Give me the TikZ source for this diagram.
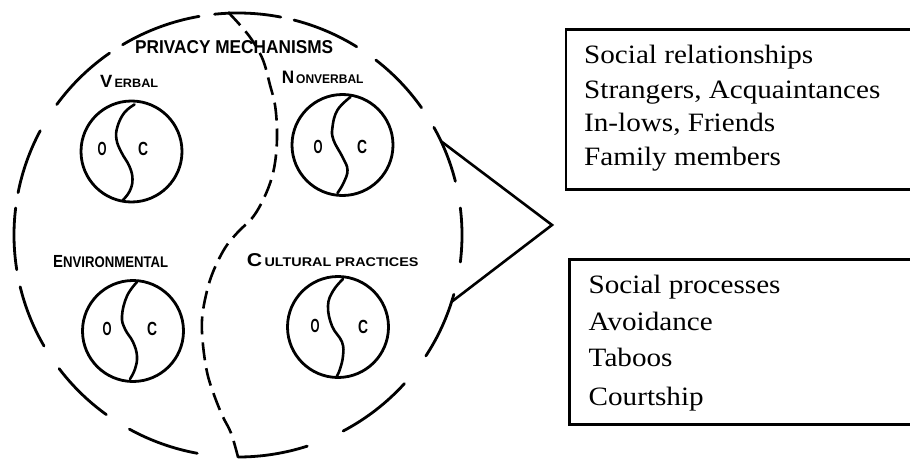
\documentclass[tikz,border=0pt]{standalone}
\usepackage{fontspec}
\usepackage{graphicx}
\newfontfamily\lab{Liberation Sans Bold}
\newfontfamily\boxfont[FakeStretch=1.1]{Liberation Serif}
\newcommand{\fitw}[2]{\resizebox{#1}{\height}{#2}}
\newcommand{\fs}[1]{\fontsize{#1}{#1}\selectfont}
\begin{document}
\begin{tikzpicture}[x=1pt,y=1pt,
  bigdash/.style={line width=2.8pt, line cap=round},
  splitdash/.style={line width=2.6pt, dash pattern=on 18pt off 8pt},
  ring/.style={circle, draw, line width=2.8pt, minimum size=101pt, inner sep=0pt},
  scurve/.style={line width=2.6pt, line cap=round},
  oc/.style={inner sep=0pt, font=\lab},
  lettering/.style={anchor=base west, inner sep=0pt, font=\lab},
  boxtext/.style={anchor=base west, inner sep=0pt, font=\boxfont\fs{26.5}},
  infobox/.style={draw, line width=2.4pt, anchor=north west, inner sep=0pt, minimum width=360pt}
]
\useasboundingbox (0,0) rectangle (910,459);
\clip (0,0) rectangle (910,459);

% big dashed circle
\foreach \a/\b in {100/121, 79/96, 58/75.5, 35/52, 14/29, -7/7, -33/-15.5, -62/-42,
  -90/-72, -119/-100.5, -143/-126, -166.5/-150, 173/189, 152/169, 125/144}
  \draw[bigdash] (238,224) ++(\a:224 and 222) arc[start angle=\a, end angle=\b, x radius=224, y radius=222];

% dividing dashed S-curve
\draw[splitdash] plot[smooth, tension=0.6] coordinates {(228,447) (240,434) (252,419) (263,399) (270,374) (275,354) (277,329) (276,304) (272,282) (264,261) (253,242) (238,227) (225,211) (213,187) (206,164) (202,139) (203,114) (207,87) (213,67) (222,44) (231,26) (238,2)};

% pointer triangle
\coordinate (t1) at (441,317.8);
\coordinate (apex) at (552,234);
\coordinate (t2) at (451.6,157.2);
\draw[line width=2.6pt, line join=miter] (t1) -- (apex) -- (t2);

% title
\node[lettering] (privacy) at (135,405.7) {\fitw{198pt}{\fs{18.6}PRIVACY MECHANISMS}};

% four mechanism circles
\node[ring] (verbal) at (131.5,307.5) {};
\node[ring] (nonverbal) at (342.5,314) {};
\node[ring] (environ) at (133,128) {};
\node[ring] (cultural) at (338,132) {};

\begin{scope}[shift={(131.5,307.5)}]
\draw[scurve] plot[smooth, tension=0.7] coordinates {(3,47) (-7,39) (-14,25) (-15,12) (-10,-1) (-2,-15) (1,-28) (-2,-40) (-9,-49)};
\end{scope}
\begin{scope}[shift={(342.5,314)}]
\draw[scurve] plot[smooth, tension=0.7] coordinates {(8,48) (-5,35) (-10,18) (-9,5) (0,-12) (5,-25) (1,-38) (-5,-48)};
\end{scope}
\begin{scope}[shift={(133,128)}]
\draw[scurve] plot[smooth, tension=0.7] coordinates {(4,49) (-6,35) (-11,15) (-8,2) (0,-11) (4,-25) (2,-38) (-3,-48)};
\end{scope}
\begin{scope}[shift={(338,132)}]
\draw[scurve] plot[smooth, tension=0.7] coordinates {(5,48) (-5,36) (-10,21) (-6,1) (4,-15) (5,-29) (2,-42) (-1,-49)};
\end{scope}

\node[oc] (vO) at (102,310) {\fitw{9pt}{\fs{19}O}};
\node[oc] (vC) at (143,310) {\fitw{10pt}{\fs{19}C}};
\node[oc] (nO) at (318,312) {\fitw{9pt}{\fs{19}O}};
\node[oc] (nC) at (362,312) {\fitw{10pt}{\fs{19}C}};
\node[oc] (eO) at (107,130) {\fitw{9pt}{\fs{19}O}};
\node[oc] (eC) at (152,130) {\fitw{10pt}{\fs{19}C}};
\node[oc] (cO) at (315,133) {\fitw{9pt}{\fs{19}O}};
\node[oc] (cC) at (363,132) {\fitw{10pt}{\fs{19}C}};

% labels
\node[lettering] (lverbal) at (100,371.3) {\fitw{58pt}{\fs{17.7}V\hspace{2pt}\fs{12.2}ERBAL}};
\node[lettering] (lnonverbal) at (281.7,375) {\fitw{81.6pt}{\fs{18}N\hspace{2pt}\fs{12.6}ONVERBAL}};
\node[lettering] (lenviron) at (53,191.3) {\fitw{115pt}{\fs{17.5}E\fs{15.4}NVIRONMENTAL}};
\node[lettering] (lcultural) at (246.7,192.3) {\fitw{171.6pt}{\fs{18.6}C\hspace{2pt}\fs{12.6}ULTURAL PRACTICES}};

% right-hand boxes
\node[infobox, minimum height=160pt] (box1) at (565,430.7) {};
\node[infobox, minimum height=165pt] (box2) at (568.3,200.7) {};

\node[boxtext] (r1) at (584,395.7) {Social relationships};
\node[boxtext] (r2) at (584,360.7) {Strangers, Acquaintances};
\node[boxtext] (r3) at (584,327.3) {In-lows, Friends};
\node[boxtext] (r4) at (584,294) {Family members};

\node[boxtext] (p1) at (588.5,165.7) {Social processes};
\node[boxtext] (p2) at (588.5,129) {Avoidance};
\node[boxtext] (p3) at (588.5,92.3) {Taboos};
\node[boxtext] (p4) at (588.5,54) {Courtship};
\end{tikzpicture}
\end{document}
